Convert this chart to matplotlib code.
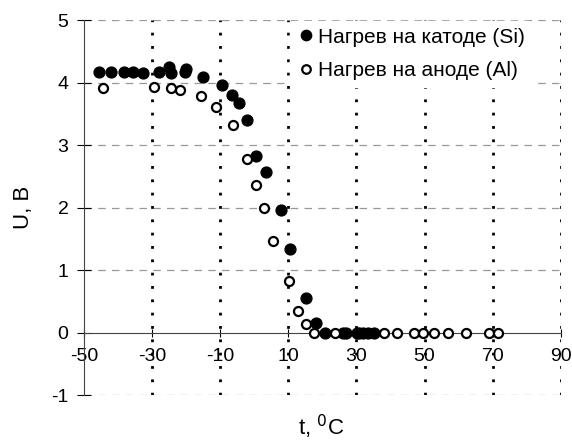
import matplotlib.pyplot as plt

plt.rcParams['font.family'] = ['Liberation Sans', 'DejaVu Sans']
plt.rcParams['axes.unicode_minus'] = False

# --- данные: нагрев на катоде (Si) ---
t_si = [-45.5, -42.0, -38.1, -35.5, -32.6, -28.0, -25.1, -24.5, -20.4, -20.1,
        -15.0, -9.5, -6.6, -4.5, -2.1, 0.6, 3.6, 8.0, 10.4, 15.3, 18.2,
        20.9, 26.2, 27.0, 30.1, 30.9, 31.9, 33.3, 35.3]
u_si = [4.18, 4.18, 4.18, 4.18, 4.16, 4.17, 4.25, 4.16, 4.18, 4.22,
        4.09, 3.96, 3.81, 3.68, 3.41, 2.83, 2.57, 1.96, 1.34, 0.55, 0.16,
        0.0, 0.0, 0.0, 0.0, 0.0, 0.0, 0.0, 0.0]

# --- данные: нагрев на аноде (Al) ---
t_al = [-44.5, -29.4, -24.5, -21.8, -15.5, -11.1, -6.1, -2.0, 0.5, 2.9, 5.5,
        10.2, 12.8, 15.3, 17.7, 23.6, 38.2, 41.8, 46.8, 49.6, 52.9, 57.0,
        62.3, 68.8, 71.6]
u_al = [3.91, 3.93, 3.91, 3.89, 3.79, 3.62, 3.32, 2.78, 2.37, 1.99, 1.47,
        0.83, 0.35, 0.13, 0.0, 0.0, 0.0, 0.0, 0.0, 0.0, 0.0, 0.0,
        0.0, 0.0, 0.0]

x_ticks = [-50, -30, -10, 10, 30, 50, 70, 90]
y_ticks = [-1, 0, 1, 2, 3, 4, 5]

fig = plt.figure(figsize=(5.72, 4.46), dpi=100)
ax = fig.add_axes([0.1465, 0.1143, 0.834, 0.84])

ax.set_xlim(-50, 90)
ax.set_ylim(-1, 5)

# сетка
for y in y_ticks:
    if y != 0:
        ax.axhline(y, color='#999999', lw=0.9, ls=(0, (6, 5)), zorder=0)
for x in x_ticks[1:]:
    ax.axvline(x, color='black', lw=2.0, ls=(0, (1.0, 3.8)), zorder=1)

ax.plot(t_si, u_si, 'o', color='black', ms=7.8, zorder=3,
        label='Нагрев на катоде (Si)')
ax.plot(t_al, u_al, 'o', mfc='white', mec='black', mew=1.6, ms=6.5, zorder=4,
        label='Нагрев на аноде (Al)')

ax.spines['top'].set_visible(False)
ax.spines['right'].set_visible(False)
ax.spines['bottom'].set_position(('data', 0))
ax.spines['bottom'].set_color('#444444')
ax.spines['left'].set_color('#444444')

ax.set_xticks(x_ticks)
ax.set_yticks(y_ticks)
ax.tick_params(axis='x', direction='inout', length=6, labelsize=14, pad=8)
ax.tick_params(axis='y', direction='inout', length=10, labelsize=14, pad=6)

ax.set_ylabel('U, В', fontsize=16, labelpad=12)
fig.text(0.562, 0.025, 't, $^0$C', fontsize=16, ha='center')

leg = ax.legend(loc='upper left', bbox_to_anchor=(0.41, 1.025), fontsize=15,
                frameon=True, handletextpad=0.05, handlelength=1.0,
                borderpad=0.3, labelspacing=0.7, markerscale=0.95)
leg.get_frame().set_edgecolor('white')
leg.get_frame().set_alpha(1)

fig.savefig('out.png', dpi=100)
